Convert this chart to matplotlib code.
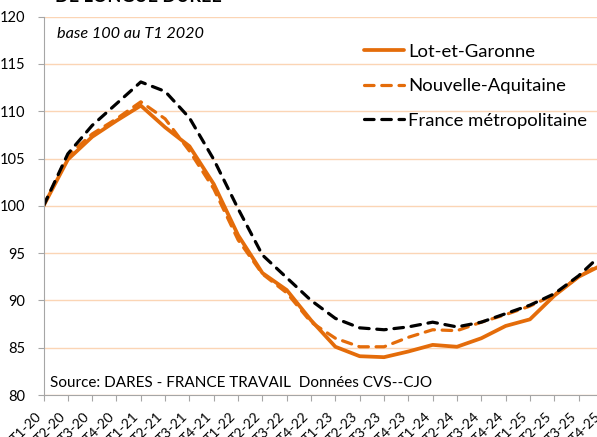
import numpy as np
import matplotlib
matplotlib.use('Agg')
import matplotlib.pyplot as plt

plt.rcParams['font.family'] = ['Lato', 'DejaVu Sans']

trimestres = ['T1-20', 'T2-20', 'T3-20', 'T4-20', 'T1-21', 'T2-21', 'T3-21', 'T4-21',
              'T1-22', 'T2-22', 'T3-22', 'T4-22', 'T1-23', 'T2-23', 'T3-23', 'T4-23',
              'T1-24', 'T2-24', 'T3-24', 'T4-24', 'T1-25', 'T2-25', 'T3-25', 'T4-25']

lot_et_garonne = [100, 104.9, 107.3, 109.0, 110.6, 108.3, 106.3, 102.3,
                  96.9, 92.9, 91.1, 87.9, 85.1, 84.1, 84.0, 84.6,
                  85.3, 85.1, 86.0, 87.3, 88.0, 90.5, 92.5, 93.8]
nouvelle_aquitaine = [100, 105.3, 107.6, 109.2, 111.0, 109.2, 105.8, 101.8,
                      96.4, 92.8, 90.8, 87.7, 86.0, 85.1, 85.1, 86.1,
                      86.9, 86.8, 87.7, 88.5, 89.4, 90.6, 92.5, 94.0]
france = [100, 105.5, 108.5, 110.8, 113.1, 112.1, 109.3, 104.9,
          99.7, 94.8, 92.4, 90.0, 88.1, 87.1, 86.9, 87.2,
          87.7, 87.2, 87.7, 88.6, 89.5, 90.7, 92.6, 95.0]

orange = '#E46C0A'
x = np.arange(len(trimestres))

fig = plt.figure(figsize=(5.97, 4.37), dpi=100)
ax = fig.add_axes([0.0729, 0.0961, 0.937, 0.8657])

ax.plot(x, lot_et_garonne, color=orange, lw=2.7, label='Lot-et-Garonne', solid_capstyle='round')
ax.plot(x, nouvelle_aquitaine, color=orange, lw=2.3, dashes=(3, 2.4),
        dash_capstyle='round', label='Nouvelle-Aquitaine')
ax.plot(x, france, color='black', lw=2.3, dashes=(3, 2.4),
        dash_capstyle='round', label='France métropolitaine')

ax.set_xlim(0, len(trimestres) - 1)
ax.set_ylim(80, 120)
ax.set_yticks(np.arange(80, 121, 5))
ax.set_xticks(x)
ax.set_xticklabels(trimestres, rotation=45, ha='right', va='top')
ax.tick_params(axis='x', length=4, color='#A6A6A6', labelsize=10, pad=7)
ax.tick_params(axis='y', length=4, color='#A6A6A6', labelsize=10.5, pad=9)

ax.grid(axis='y', color='#FBD5B5', lw=1)
ax.set_axisbelow(True)
for s in ['top', 'right']:
    ax.spines[s].set_visible(False)
for s in ['left', 'bottom']:
    ax.spines[s].set_color('#A6A6A6')

ax.legend(loc='upper left', bbox_to_anchor=(0.556, 0.953), frameon=False, fontsize=13.3,
          handlelength=2.2, handletextpad=0.2, labelspacing=1.0, borderpad=0)

fig.text(0.095, 0.922, 'base 100 au T1 2020', fontsize=11.7, style='italic', va='center')
fig.text(0.084, 0.123, 'Source: DARES - FRANCE TRAVAIL  Données CVS--CJO', fontsize=11, va='center')
fig.text(0.092, 1.009, 'DE LONGUE DURÉE', fontsize=13, fontweight='bold', va='center')

fig.savefig('out.png', dpi=100)
